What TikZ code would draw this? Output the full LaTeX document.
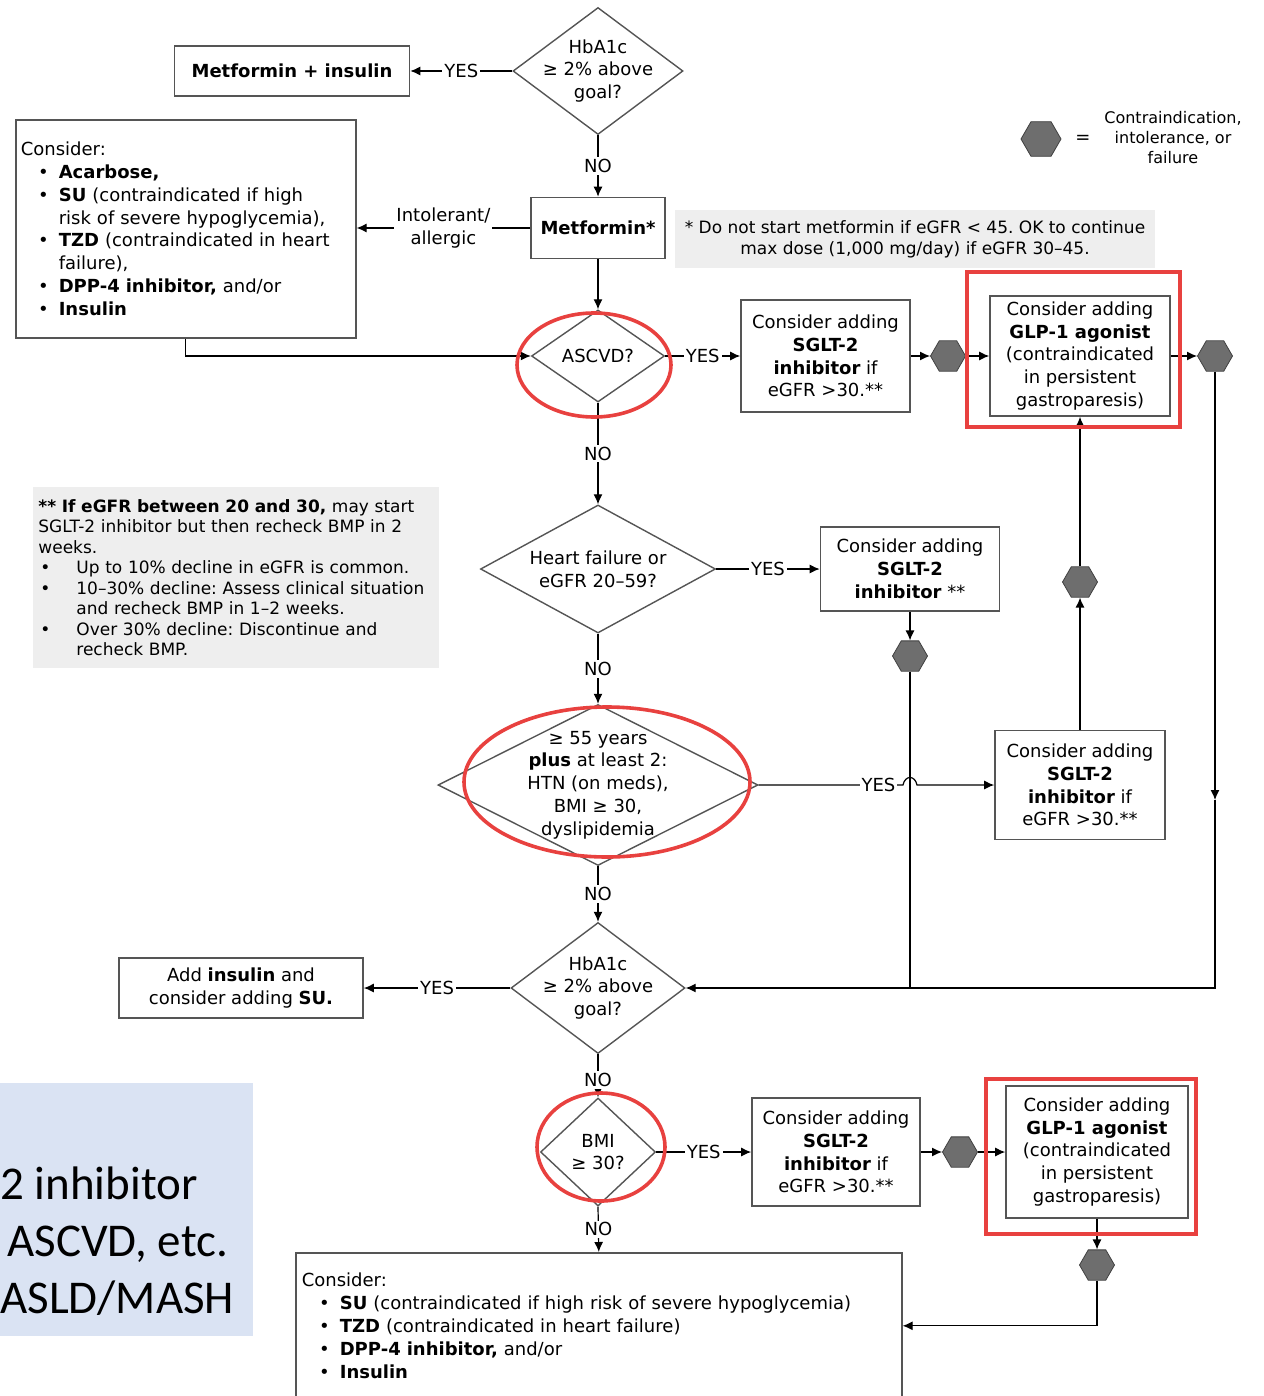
\documentclass[tikz,border=0pt]{standalone}
\usepackage{fontspec}
\setmainfont{DejaVu Sans}
\newfontfamily\slidefont{Carlito}
\usepackage{tikz}
\usetikzlibrary{arrows.meta,positioning,calc,shapes.geometric}
\definecolor{redmark}{HTML}{E8413F}
\definecolor{notegray}{HTML}{EEEEEE}
\definecolor{hexgray}{HTML}{6E6E6E}
\definecolor{boxline}{HTML}{555555}
\definecolor{slideblue}{HTML}{DAE3F3}
\frenchspacing
\newcommand{\bitem}[2][5pt]{\par{\leftskip=19pt\noindent\llap{\textbullet\hspace{#1}}#2\par}}

\begin{document}
\begin{tikzpicture}[x=0.5pt,y=-0.5pt,>={Latex[length=5pt,width=4.5pt]},
  every node/.style={font=\fontsize{9}{11.4}\selectfont},
  box/.style={draw=boxline,line width=0.8pt,fill=white,align=center,inner sep=2pt},
  dia/.style={diamond,draw=boxline,line width=0.7pt,fill=white,inner sep=0pt},
  dtxt/.style={align=center,inner sep=0pt},
  hex/.style={regular polygon,regular polygon sides=6,draw=black!75,fill=hexgray,minimum size=17.5pt,inner sep=0pt},
  lbl/.style={fill=white,inner sep=1pt},
  note/.style={fill=notegray,inner sep=2.5pt},
  ring/.style={draw=redmark,line width=1.8pt},
  conn/.style={line width=0.6pt}]
  \useasboundingbox (0,0) rectangle (1263,1396);

  \fill[slideblue] (0,1083) rectangle (253,1336);
  \node[anchor=west,align=left,inner sep=0pt,font=\slidefont\fontsize{23.5}{28.5}\selectfont] (slide) at (0,1241)
    {2 inhibitor\\\hspace*{3.5pt}ASCVD, etc.\\ASLD/MASH};

  \node[dia,minimum width=85pt,minimum height=63.5pt,label={[dtxt]center:{HbA1c\\≥ 2\% above\\goal?}}] (hba1) at (598,71) {};
  \node[box,minimum width=117.5pt,minimum height=25pt] (metins) at (292,71) {\textbf{Metformin + insulin}};
  \node[box,minimum width=67pt,minimum height=30.5pt] (met) at (598,228) {\textbf{Metformin*}};
  \node[box,anchor=north west,align=left,text width=165pt,minimum height=109pt,inner xsep=2.5pt] (alt1) at (15,119) {\noindent Consider:
    \bitem{\textbf{Acarbose,}}
    \bitem{\textbf{SU} (contraindicated if high\hfil\break risk of severe hypoglycemia),}
    \bitem{\textbf{TZD} (contraindicated in heart\hfil\break failure),}
    \bitem{\textbf{DPP-4 inhibitor,} and/or}
    \bitem{\textbf{Insulin}}};
  \node[note,minimum width=240pt,minimum height=29pt,align=center,font=\fontsize{8.5}{10.5}\selectfont] (note1) at (915,239)
    {* Do not start metformin if eGFR < 45. OK to continue\\max dose (1,000 mg/day) if eGFR 30–45.};
  \node[hex,minimum size=20pt] (leg) at (1041,139) {};
  \node (eq) at (1083,139) {=};
  \node[align=center,font=\fontsize{8}{10}\selectfont] (legtxt) at (1173,138) {Contraindication,\\intolerance, or\\failure};

  \node[dia,minimum width=66.5pt,minimum height=46pt,label={[dtxt]center:ASCVD?}] (ascvd) at (598,356) {};
  \node[box,minimum width=84.5pt,minimum height=56pt] (sg1) at (825.5,356) {Consider adding\\\textbf{SGLT-2}\\\textbf{inhibitor} if\\eGFR >30.**};
  \node[box,minimum width=90pt,minimum height=60pt] (glp1) at (1080,356) {Consider adding\\\textbf{GLP-1 agonist}\\(contraindicated\\in persistent\\gastroparesis)};

  \node[note,anchor=north west,align=left,text width=198pt,minimum height=90.5pt,font=\fontsize{8.5}{10.25}\selectfont] (note2) at (33,487)
    {\noindent\textbf{** If eGFR between 20 and 30,} may start\hfil\break SGLT-2 inhibitor but then recheck BMP in 2\hfil\break weeks.
    \bitem[13pt]{Up to 10\% decline in eGFR is common.}
    \bitem[13pt]{10–30\% decline: Assess clinical situation\hfil\break and recheck BMP in 1–2 weeks.}
    \bitem[13pt]{Over 30\% decline: Discontinue and\hfil\break recheck BMP.}};

  \node[dia,minimum width=117.5pt,minimum height=64pt,label={[dtxt]center:{Heart failure or\\eGFR 20–59?}}] (hf) at (598,569) {};
  \node[box,minimum width=89.5pt,minimum height=42pt] (sg2) at (910,569) {Consider adding\\\textbf{SGLT-2}\\\textbf{inhibitor} **};

  \node[dia,minimum width=160pt,minimum height=80.5pt,label={[dtxt]center:{≥ 55 years\\\textbf{plus} at least 2:\\HTN (on meds),\\BMI ≥ 30,\\dyslipidemia}}] (age) at (598,785) {};
  \node[box,minimum width=85pt,minimum height=54.5pt] (sg3) at (1080,785) {Consider adding\\\textbf{SGLT-2}\\\textbf{inhibitor} if\\eGFR >30.**};

  \node[dia,minimum width=87pt,minimum height=65.5pt,label={[dtxt]center:{HbA1c\\≥ 2\% above\\goal?}}] (hba2) at (598,988) {};
  \node[box,minimum width=122pt,minimum height=30pt] (addins) at (241,988) {Add \textbf{insulin} and\\consider adding \textbf{SU.}};

  \node[dia,minimum width=57.5pt,minimum height=54pt,label={[dtxt]center:{BMI\\≥ 30?}}] (bmi) at (598,1152) {};
  \node[box,minimum width=84pt,minimum height=54pt] (sg4) at (836,1152) {Consider adding\\\textbf{SGLT-2}\\\textbf{inhibitor} if\\eGFR >30.**};
  \node[box,minimum width=91pt,minimum height=66pt] (glp2) at (1097,1152) {Consider adding\\\textbf{GLP-1 agonist}\\(contraindicated\\in persistent\\gastroparesis)};
  \node[box,anchor=north west,align=left,text width=297pt,minimum height=73pt,inner xsep=3pt] (alt2) at (295,1252) {\noindent Consider:
    \bitem{\textbf{SU} (contraindicated if high risk of severe hypoglycemia)}
    \bitem{\textbf{TZD} (contraindicated in heart failure)}
    \bitem{\textbf{DPP-4 inhibitor,} and/or}
    \bitem{\textbf{Insulin}}};

  \foreach \n/\x/\y in {hx1/948/356,hx2/1215/356,hx3/910/656,hx4/1080/582,hx5/960/1152,hx6/1097/1265}
    \node[hex] (\n) at (\x,\y) {};

  \draw[conn,->] (hba1.west) -- node[lbl]{YES} (metins.east);
  \draw[conn,->] (hba1.south) -- node[lbl]{NO} (met.north);
  \draw[conn,->] (met.west) -- node[lbl,align=center]{Intolerant/\\allergic} (met.west -| alt1.east);
  \draw[conn,->] (met.south) -- (ascvd.north);
  \draw[conn,->] (alt1.south) |- (ascvd.west);
  \draw[conn,->] (ascvd.east) -- node[lbl]{YES} (sg1.west);
  \draw[conn,->] (sg1.east) -- (hx1.west);
  \draw[conn,->] (hx1.east) -- (glp1.west);
  \draw[conn,->] (glp1.east) -- (hx2.west);
  \coordinate (down1) at (1215,800);
  \draw[conn,->] (hx2.south) -- (down1);
  \draw[conn,->] (down1) |- (hba2.east);
  \draw[conn,->] (ascvd.south) -- node[lbl]{NO} (hf.north);
  \draw[conn,->] (hf.east) -- node[lbl]{YES} (sg2.west);
  \draw[conn,->] (sg2.south) -- (hx3.north);
  \draw[conn] (hx3.south) -- (hx3.south |- hba2.east);
  \draw[conn,->] (hf.south) -- node[lbl]{NO} (age.north);
  \coordinate (hop1) at (903,785);
  \coordinate (hop2) at (917,785);
  \draw[conn,->] (age.east) -- node[lbl,pos=0.83]{YES} (hop1) .. controls (905,775) and (915,775) .. (hop2) -- (sg3.west);
  \draw[conn,->] (sg3.north) -- (hx4.south);
  \draw[conn,->] (hx4.north) -- (glp1.south);
  \draw[conn,->] (age.south) -- node[lbl]{NO} (hba2.north);
  \draw[conn,->] (hba2.west) -- node[lbl]{YES} (addins.east);
  \draw[conn,->] (hba2.south) -- node[lbl,pos=0.6]{NO} (bmi.north);
  \draw[conn,->] (bmi.east) -- node[lbl]{YES} (sg4.west);
  \draw[conn,->] (sg4.east) -- (hx5.west);
  \draw[conn,->] (hx5.east) -- (glp2.west);
  \draw[conn,->] (glp2.south) -- (hx6.north);
  \draw[conn,->] (hx6.south) |- (alt2.east);
  \draw[conn,->] (bmi.south) -- node[lbl]{NO} (alt2.north);

  \draw[ring] (594,365) ellipse [x radius=38.5pt,y radius=26pt];
  \draw[ring] (607,782) ellipse [x radius=71.5pt,y radius=37.5pt];
  \draw[ring] (601,1147) ellipse [x radius=32pt,y radius=27pt];
  \draw[ring] (967,272) rectangle (1180,427);
  \draw[ring] (986,1079) rectangle (1196,1234);
\end{tikzpicture}
\end{document}
